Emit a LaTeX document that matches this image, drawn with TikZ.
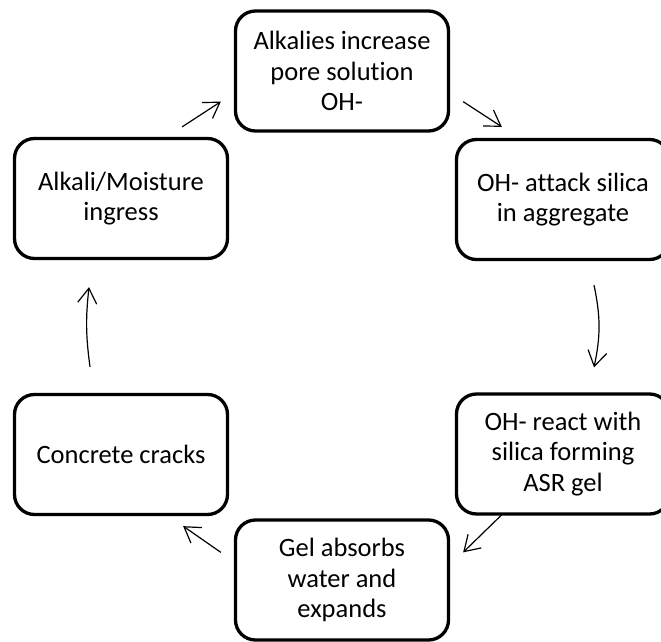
\documentclass[tikz,border=0pt]{standalone}
\usepackage{fontspec}
\setmainfont{Carlito}[Ligatures=NoCommon]
\usetikzlibrary{positioning, arrows.meta, calc}

\begin{document}
\begin{tikzpicture}[
        x=1pt, y=-1pt,
        stage/.style={draw, rectangle, rounded corners=20pt, line width=3.3pt, minimum width=213pt, minimum height=120pt, align=center, inner sep=2pt, font=\fontsize{26.5}{30.5}\selectfont},
        arrow/.style={-{Straight Barb[length=15pt, width=19pt, line width=1.2pt]}, line width=1.2pt}
    ]

    \useasboundingbox (0, 0) rectangle (661, 642);
    \clip (0, 0) rectangle (661, 642);

    % --- Top row ---
    \node[stage] (alkalies) at (342, 71) {Alkalies increase\\pore solution\\OH-};

    % --- Upper row ---
    \node[stage] (ingress) at (121, 198.5) {Alkali/Moisture\\ingress};
    \node[stage] (attack) at (563, 199.5) {OH- attack silica\\in aggregate};

    % --- Lower row ---
    \node[stage] (cracks) at (121, 454.5) {Concrete cracks};
    \node[stage] (react) at (563, 454) {OH- react with\\silica forming\\ASR gel};

    % --- Bottom row ---
    \node[stage] (gel) at (342, 580) {Gel absorbs\\water and\\expands};

    % --- Arrows (clockwise cycle) ---
    \draw[arrow] ([shift={(-47,-10)}]ingress.north east) -- ([shift={(-13,-31)}]alkalies.south west);
    \draw[arrow] ([shift={(13,-31)}]alkalies.south east) -- ([shift={(47,-11)}]attack.north west);
    \draw[arrow] ([shift={(31,24)}]attack.south) to[bend left=12] ([shift={(31,-25)}]react.north);
    \draw[arrow] ([shift={(47,-1)}]react.south west) -- ([shift={(13,34)}]gel.north east);
    \draw[arrow] ([shift={(-13,34)}]gel.north west) -- ([shift={(-46,10)}]cracks.south east);
    \draw[arrow] ([shift={(-31,-26)}]cracks.north) to[bend left=7] ([shift={(-32,27)}]ingress.south);

\end{tikzpicture}
\end{document}
